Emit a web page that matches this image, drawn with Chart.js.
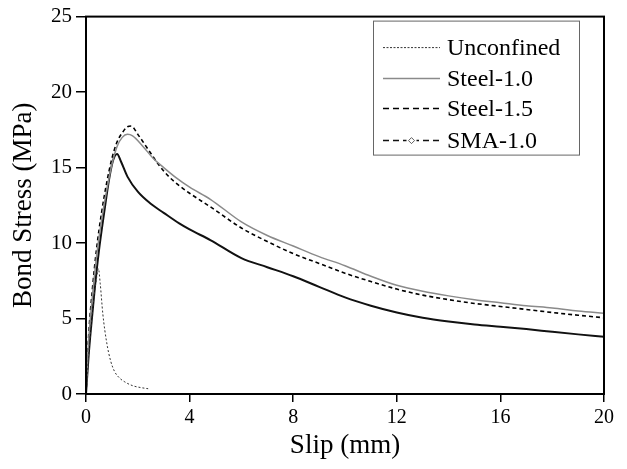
<!DOCTYPE html>
<html>
<head>
<meta charset="utf-8">
<script src="https://cdn.jsdelivr.net/npm/chart.js@4/dist/chart.umd.min.js"></script>
<style>
  html, body { margin: 0; padding: 0; background: #fff; }
  #wrap { width: 627px; height: 469px; }
</style>
</head>
<body>
<div id="wrap"><canvas id="c" width="627" height="469"></canvas></div>
<script>
// ---- data ----
const seriesNames = ["Unconfined", "Steel-1.0", "Steel-1.5", "SMA-1.0"];

const unconfinedX = [0, 0.1, 0.2, 0.3, 0.4, 0.48, 0.55, 0.65, 0.8, 0.95, 1.1, 1.3, 1.5, 1.8, 2.1, 2.4];
const unconfinedY = [0, 2.5, 4.6, 6.3, 7.6, 8.3, 7.3, 5.3, 3.4, 2.2, 1.5, 1.05, 0.8, 0.55, 0.43, 0.35];

const steel10X = [0, 0.1, 0.25, 0.4, 0.6, 0.8, 1.0, 1.2, 1.4, 1.6, 1.8, 2.2, 2.6, 3.0, 3.5, 4.0, 4.8, 6, 7, 8, 9, 10, 11, 12, 13, 14, 15, 16, 17, 18, 19, 20];
const steel10Y = [0, 3.5, 6.5, 9.0, 11.5, 13.5, 15.2, 16.4, 17.0, 17.2, 17.1, 16.4, 15.6, 15.0, 14.3, 13.7, 12.9, 11.4, 10.5, 9.8, 9.1, 8.5, 7.8, 7.2, 6.8, 6.5, 6.25, 6.05, 5.85, 5.7, 5.5, 5.35];

const steel15X = [0, 0.1, 0.25, 0.4, 0.6, 0.8, 1.0, 1.2, 1.4, 1.6, 1.75, 2.0, 2.4, 2.8, 3.2, 3.6, 4.0, 4.8, 6, 7, 8, 9, 10, 11, 12, 13, 14, 15, 16, 17, 18, 19, 20];
const steel15Y = [0, 3.8, 7.0, 9.5, 12.0, 14.0, 15.6, 16.7, 17.3, 17.7, 17.75, 17.2, 16.2, 15.2, 14.4, 13.8, 13.3, 12.4, 11.0, 10.1, 9.3, 8.65, 8.0, 7.45, 6.95, 6.55, 6.25, 6.0, 5.8, 5.6, 5.4, 5.22, 5.05];

const sma10X = [0, 0.1, 0.2, 0.35, 0.5, 0.7, 0.9, 1.05, 1.2, 1.35, 1.6, 2.0, 2.5, 3.0, 3.6, 4.0, 4.8, 6, 7, 8, 9, 10, 11, 12, 13, 14, 15, 16, 17, 18, 19, 20];
const sma10Y = [0, 2.5, 4.5, 7.2, 9.5, 12.0, 14.3, 15.5, 15.9, 15.4, 14.4, 13.4, 12.6, 12.0, 11.3, 10.9, 10.2, 9.0, 8.4, 7.8, 7.1, 6.4, 5.85, 5.4, 5.05, 4.8, 4.6, 4.45, 4.3, 4.12, 3.95, 3.8];

const xTicks = [0, 4, 8, 12, 16, 20];
const yTicks = [0, 5, 10, 15, 20, 25];
const xTitle = "Slip (mm)";
const yTitle = "Bond Stress (MPa)";

// ---- build ----
function pts(xs, ys) { return xs.map((x, i) => ({ x: x, y: ys[i] })); }

const styles = [
  { color: "#333333", width: 1, dash: [2, 2] },
  { color: "#8a8a8a", width: 1.5, dash: [] },
  { color: "#000000", width: 1.6, dash: [4, 3] },
  { color: "#111111", width: 2, dash: [] }
];
const xsAll = [unconfinedX, steel10X, steel15X, sma10X];
const ysAll = [unconfinedY, steel10Y, steel15Y, sma10Y];

const datasets = seriesNames.map((n, i) => ({
  label: n,
  data: pts(xsAll[i], ysAll[i]),
  borderColor: styles[i].color,
  borderWidth: styles[i].width,
  borderDash: styles[i].dash,
  pointRadius: 0,
  fill: false,
  cubicInterpolationMode: "monotone",
  tension: 0.4
}));

const serif = "'Liberation Serif', 'Times New Roman', serif";

const framePlugin = {
  id: "frame",
  afterDraw(chart) {
    const { ctx, chartArea: a } = chart;
    ctx.save();
    ctx.strokeStyle = "#000";
    ctx.lineWidth = 2;
    ctx.strokeRect(a.left, a.top, a.right - a.left, a.bottom - a.top);
    ctx.restore();
  }
};

const legendPlugin = {
  id: "customLegend",
  afterDraw(chart) {
    const { ctx, chartArea: a } = chart;
    const bw = 206, bh = 134;
    const bx = a.right - 25 - bw, by = a.top + 4;
    ctx.save();
    ctx.fillStyle = "#fff";
    ctx.fillRect(bx, by, bw, bh);
    ctx.strokeStyle = "#666";
    ctx.lineWidth = 1;
    ctx.strokeRect(bx + 0.5, by + 0.5, bw, bh);
    const rows = [27, 58, 88, 120];
    const legDash = [[2, 1.5], [], [6, 4], [6, 4]];
    seriesNames.forEach((n, i) => {
      const y = by + rows[i];
      const x0 = bx + 10, x1 = bx + 67;
      ctx.strokeStyle = styles[i].color;
      ctx.lineWidth = i === 0 ? 1 : 1.5;
      ctx.setLineDash(legDash[i]);
      ctx.beginPath();
      ctx.moveTo(x0, y); ctx.lineTo(x1, y);
      ctx.stroke();
      ctx.setLineDash([]);
      if (i === 3) {
        const cx = (x0 + x1) / 2;
        ctx.fillStyle = "#fff";
        ctx.fillRect(cx - 5, y - 4, 10, 8);
        ctx.beginPath();
        ctx.moveTo(cx, y - 3); ctx.lineTo(cx + 3, y); ctx.lineTo(cx, y + 3); ctx.lineTo(cx - 3, y); ctx.closePath();
        ctx.strokeStyle = "#333"; ctx.lineWidth = 0.8;
        ctx.stroke();
      }
      ctx.fillStyle = "#000";
      ctx.font = "24px " + serif;
      ctx.textBaseline = "alphabetic";
      ctx.textAlign = "left";
      ctx.fillText(n, bx + 74, y + 7);
    });
    ctx.restore();
  }
};

new Chart(document.getElementById("c"), {
  type: "line",
  data: { datasets: datasets },
  plugins: [framePlugin, legendPlugin],
  options: {
    responsive: false,
    animation: false,
    layout: { padding: { top: 16, right: 23, left: 0, bottom: 0 } },
    plugins: { legend: { display: false }, tooltip: { enabled: false } },
    scales: {
      x: {
        type: "linear",
        min: 0, max: 20,
        afterFit(s) { s.height = 75; },
        afterBuildTicks(s) { s.ticks = xTicks.map(v => ({ value: v })); },
        border: { color: "#000", width: 2 },
        grid: { display: true, drawOnChartArea: false, drawTicks: true, tickLength: 8, color: "#000", lineWidth: 1.5 },
        ticks: { color: "#000", font: { family: serif, size: 20 }, padding: 4, maxRotation: 0 },
        title: { display: true, text: xTitle, color: "#000", font: { family: serif, size: 27 }, padding: { top: 0, bottom: 7 } }
      },
      y: {
        type: "linear",
        min: 0, max: 25,
        afterFit(s) { s.width = 86; },
        afterBuildTicks(s) { s.ticks = yTicks.map(v => ({ value: v })); },
        border: { color: "#000", width: 2 },
        grid: { display: true, drawOnChartArea: false, drawTicks: true, tickLength: 10, color: "#000", lineWidth: 1.5 },
        ticks: { color: "#000", font: { family: serif, size: 21 }, padding: 4 },
        title: { display: true, text: yTitle, color: "#000", font: { family: serif, size: 27 }, padding: { top: 8, bottom: 0 } }
      }
    }
  }
});
</script>
</body>
</html>
